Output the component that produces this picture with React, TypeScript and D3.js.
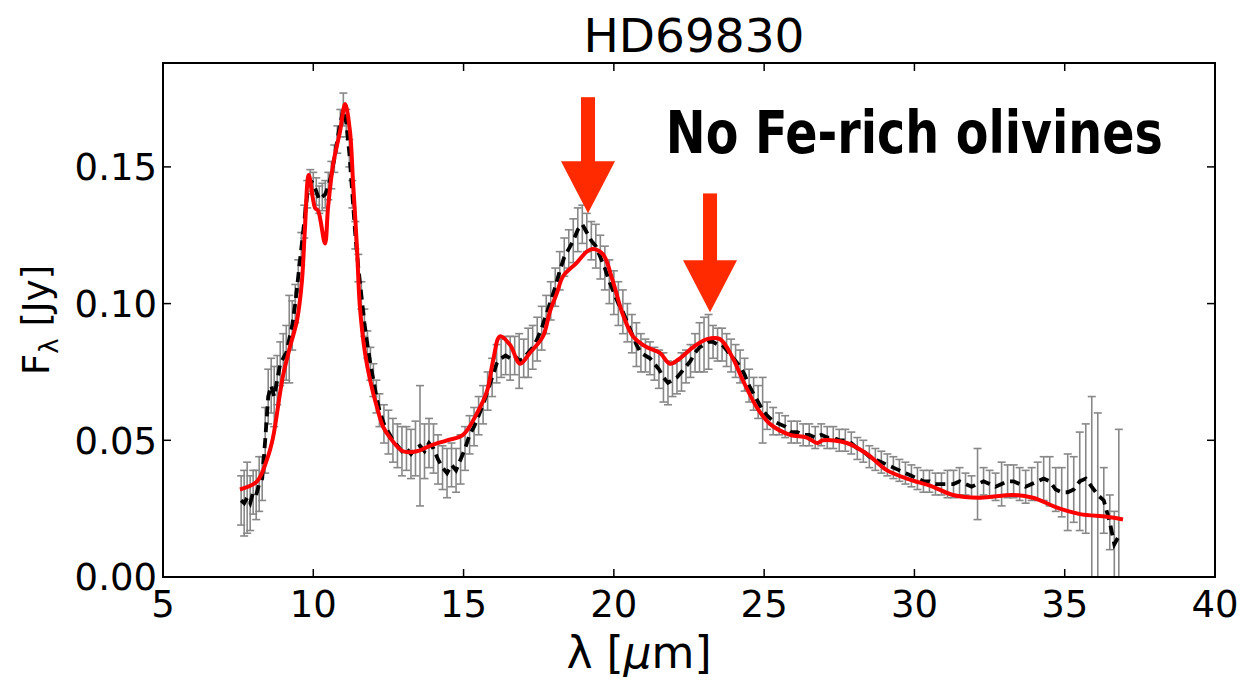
import * as d3 from "d3";

// observed spectrum (wavelength in micron, flux in Jy, 1-sigma error)
const obsWave = [
  7.6, 7.7, 7.8, 7.9, 8.0, 8.1, 8.2, 8.3, 8.4, 8.5,
  8.6, 8.7, 8.8, 8.9, 9.0, 9.1, 9.2, 9.3, 9.4, 9.5,
  9.6, 9.7, 9.8, 9.9, 10.0, 10.1, 10.2, 10.3, 10.4, 10.5,
  10.6, 10.7, 10.8, 10.9, 11.0, 11.1, 11.2, 11.3, 11.4, 11.5,
  11.6, 11.7, 11.8, 11.9, 12.0, 12.1, 12.2,
  12.35, 12.5, 12.65, 12.8, 12.95, 13.1, 13.25, 13.4, 13.55, 13.7, 13.85, 14.0,
  14.15, 14.3, 14.45, 14.6, 14.75, 14.9, 15.05, 15.2, 15.35, 15.5, 15.65, 15.8, 15.95,
  16.1, 16.25, 16.4, 16.55, 16.7, 16.85, 17.0, 17.15, 17.3, 17.45, 17.6, 17.75, 17.9,
  18.05, 18.2, 18.35, 18.5, 18.65, 18.8, 18.95, 19.1, 19.25, 19.4, 19.55, 19.7, 19.85,
  20.0, 20.15, 20.3, 20.45, 20.6, 20.75, 20.9, 21.05, 21.2, 21.35, 21.5, 21.65, 21.8,
  21.95, 22.1, 22.25, 22.4, 22.55, 22.7, 22.85, 23.0, 23.15, 23.3, 23.45, 23.6, 23.75,
  23.9, 24.05, 24.2, 24.35, 24.5, 24.65, 24.8, 24.95, 25.1,
  25.3, 25.5, 25.7, 25.9, 26.1, 26.3, 26.5, 26.7, 26.9, 27.1,
  27.3, 27.5, 27.7, 27.9, 28.1, 28.3, 28.5, 28.7, 28.9, 29.1,
  29.3, 29.5, 29.7, 29.9, 30.1, 30.3, 30.5, 30.7, 30.9, 31.1,
  31.3, 31.5, 31.7, 31.9, 32.1, 32.3, 32.5, 32.7, 32.9, 33.1,
  33.3, 33.5, 33.7, 33.9, 34.1, 34.3, 34.5, 34.7, 34.9, 35.1,
  35.3, 35.5, 35.7, 35.9, 36.1, 36.3, 36.5, 36.65, 36.8,
];

const obsFlux = [
  0.028, 0.027, 0.029, 0.027, 0.031, 0.030, 0.034, 0.036, 0.050, 0.066,
  0.070, 0.066, 0.072, 0.078, 0.080, 0.082, 0.087, 0.092, 0.100, 0.110,
  0.120, 0.130, 0.140, 0.145, 0.144, 0.141, 0.138, 0.139, 0.140, 0.143,
  0.147, 0.153, 0.160, 0.166, 0.171, 0.166, 0.155, 0.140, 0.125, 0.113,
  0.103, 0.093, 0.085, 0.078, 0.072, 0.066, 0.061,
  0.056, 0.053, 0.050, 0.048, 0.046, 0.047, 0.045, 0.047, 0.048, 0.046, 0.049, 0.047,
  0.043, 0.040, 0.038, 0.041, 0.039, 0.043, 0.047, 0.052, 0.055, 0.059, 0.063, 0.068, 0.073,
  0.078, 0.080, 0.081, 0.080, 0.081, 0.079, 0.080, 0.082, 0.084, 0.087, 0.091, 0.096, 0.101,
  0.106, 0.112, 0.117, 0.120, 0.123, 0.127, 0.129, 0.126, 0.123, 0.121, 0.117, 0.113, 0.108,
  0.104, 0.100, 0.097, 0.093, 0.089, 0.085, 0.082, 0.081, 0.080, 0.078, 0.076, 0.073, 0.071,
  0.072, 0.073, 0.075, 0.077, 0.079, 0.082, 0.084, 0.085, 0.086, 0.086, 0.085, 0.085, 0.083,
  0.081, 0.079, 0.077, 0.074, 0.070, 0.067, 0.064, 0.061, 0.059,
  0.057, 0.056, 0.055, 0.053, 0.053, 0.052, 0.052, 0.051, 0.052, 0.051,
  0.051, 0.050, 0.050, 0.049, 0.047, 0.046, 0.044, 0.043, 0.042, 0.041,
  0.040, 0.039, 0.038, 0.037, 0.036, 0.035, 0.035, 0.034, 0.034, 0.034,
  0.034, 0.035, 0.034, 0.033, 0.034, 0.035, 0.034, 0.033, 0.034, 0.035,
  0.035, 0.034, 0.033, 0.034, 0.035, 0.036, 0.035, 0.032, 0.031, 0.031,
  0.032, 0.035, 0.036, 0.033, 0.030, 0.028, 0.020, 0.012, 0.015,
];

const obsErr = [
  0.009, 0.012, 0.013, 0.010, 0.008, 0.009, 0.010, 0.008, 0.012, 0.010,
  0.010, 0.011, 0.009, 0.008, 0.009, 0.010, 0.016, 0.009, 0.007, 0.006,
  0.006, 0.006, 0.005, 0.004, 0.004, 0.005, 0.005, 0.005, 0.005, 0.005,
  0.005, 0.005, 0.005, 0.005, 0.006, 0.005, 0.005, 0.005, 0.005, 0.005,
  0.005, 0.005, 0.005, 0.006, 0.006, 0.006, 0.006,
  0.007, 0.008, 0.008, 0.008, 0.009, 0.008, 0.009, 0.010, 0.022, 0.010, 0.009, 0.009,
  0.009, 0.008, 0.009, 0.008, 0.008, 0.009, 0.008, 0.007, 0.007, 0.007, 0.007, 0.007, 0.007,
  0.007, 0.007, 0.007, 0.008, 0.007, 0.010, 0.007, 0.009, 0.008, 0.008, 0.008, 0.007, 0.007,
  0.007, 0.007, 0.007, 0.007, 0.008, 0.008, 0.007, 0.007, 0.007, 0.008, 0.008, 0.008, 0.008,
  0.008, 0.008, 0.008, 0.007, 0.007, 0.008, 0.007, 0.006, 0.006, 0.006, 0.007, 0.009, 0.008,
  0.006, 0.006, 0.007, 0.006, 0.006, 0.007, 0.009, 0.010, 0.010, 0.006, 0.006, 0.006, 0.006,
  0.006, 0.006, 0.006, 0.006, 0.006, 0.006, 0.006, 0.012, 0.005,
  0.005, 0.004, 0.004, 0.004, 0.004, 0.004, 0.004, 0.004, 0.004, 0.004,
  0.004, 0.004, 0.004, 0.004, 0.004, 0.004, 0.004, 0.004, 0.004, 0.004,
  0.004, 0.004, 0.004, 0.004, 0.004, 0.004, 0.004, 0.004, 0.004, 0.005,
  0.005, 0.005, 0.004, 0.004, 0.013, 0.005, 0.005, 0.005, 0.008, 0.006,
  0.006, 0.006, 0.006, 0.006, 0.007, 0.008, 0.009, 0.008, 0.009, 0.014,
  0.012, 0.018, 0.020, 0.033, 0.030, 0.012, 0.010, 0.012, 0.039,
];

// model fit (red curve)
const modelWave = [
  7.56, 8.13, 8.46, 8.66, 8.89, 9.0, 9.22, 9.46, 9.62, 9.72,
  9.85, 10.06, 10.16, 10.39, 10.49, 10.66, 10.89, 11.06, 11.22, 11.32,
  11.45, 11.55, 11.72, 11.89, 12.12, 12.32, 12.55, 12.98, 13.45, 13.88,
  14.45, 14.98, 15.45, 15.78, 15.98, 16.21, 16.54, 16.88, 17.21, 17.64,
  17.87, 18.11, 18.31, 18.77, 19.1, 19.3, 19.64, 19.97, 20.3, 20.64,
  21.1, 21.53, 21.87, 22.2, 22.63, 23.1, 23.53, 23.96, 24.29, 24.76,
  25.19, 25.86, 26.42, 26.76, 26.96, 27.75, 28.42, 29.09, 29.75, 30.62,
  31.28, 32.18, 33.28, 33.94, 34.84, 35.51, 36.4, 36.94,
];

const modelFlux = [
  0.032, 0.035, 0.043, 0.051, 0.067, 0.074, 0.084, 0.094, 0.108, 0.127,
  0.147, 0.135, 0.134, 0.122, 0.135, 0.151, 0.163, 0.173, 0.163, 0.145,
  0.121, 0.099, 0.082, 0.072, 0.062, 0.055, 0.051, 0.046, 0.046, 0.048,
  0.050, 0.052, 0.060, 0.068, 0.079, 0.088, 0.085, 0.078, 0.082, 0.088,
  0.097, 0.104, 0.110, 0.115, 0.119, 0.120, 0.118, 0.108, 0.096, 0.088,
  0.084, 0.082, 0.078, 0.080, 0.084, 0.087, 0.087, 0.080, 0.072, 0.062,
  0.056, 0.052, 0.051, 0.049, 0.050, 0.049, 0.045, 0.039, 0.036, 0.033,
  0.030, 0.029, 0.030, 0.029, 0.025, 0.023, 0.022, 0.021,
];

const xTicks = [5, 10, 15, 20, 25, 30, 35, 40];
const yTicks = [0, 0.05, 0.1, 0.15];

// feature markers: wavelength, shaft top and tip in Jy
const arrowWave = [19.14, 23.2];
const arrowTop = [0.1755, 0.1403];
const arrowTip = [0.133, 0.0968];

const W = 1247;
const H = 682;
const plot = { left: 163, right: 1215, top: 63, bottom: 577 };
const font = "DejaVu Sans, sans-serif";

function App() {
  const xScale = d3.scaleLinear().domain([5, 40]).range([plot.left, plot.right]);
  const yScale = d3.scaleLinear().domain([0, 0.188]).range([plot.bottom, plot.top]);

  const obs = obsWave.map((w, i) => ({ w, f: obsFlux[i], e: obsErr[i] }));
  const model = modelWave.map((w, i) => ({ w, f: modelFlux[i] }));

  const obsLine = d3
    .line<{ w: number; f: number }>()
    .x((d) => xScale(d.w))
    .y((d) => yScale(d.f));

  const modelLine = d3
    .line<{ w: number; f: number }>()
    .x((d) => xScale(d.w))
    .y((d) => yScale(d.f))
    .curve(d3.curveCatmullRom.alpha(0.5));

  const fmt = d3.format(".2f");
  const tick = 8;

  return (
    <svg
      width={W}
      height={H}
      style={{ position: "absolute", left: 0, top: 0, background: "#fff" }}
    >
      <defs>
        <clipPath id="plot-area">
          <rect
            x={plot.left}
            y={plot.top}
            width={plot.right - plot.left}
            height={plot.bottom - plot.top}
          />
        </clipPath>
      </defs>

      {/* title */}
      <text x={(plot.left + plot.right) / 2 + 5} y={52} textAnchor="middle" fontFamily={font} fontSize={47}>
        HD69830
      </text>

      <g clipPath="url(#plot-area)">
        {/* error bars */}
        <g stroke="#888" strokeWidth={1.6} fill="none">
          {obs.map((d, i) => {
            const cx = xScale(d.w);
            const y0 = yScale(d.f - d.e);
            const y1 = yScale(d.f + d.e);
            return (
              <g key={i}>
                <line x1={cx} x2={cx} y1={y0} y2={y1} />
                <line x1={cx - 4} x2={cx + 4} y1={y0} y2={y0} />
                <line x1={cx - 4} x2={cx + 4} y1={y1} y2={y1} />
              </g>
            );
          })}
        </g>

        {/* observed spectrum */}
        <path d={obsLine(obs) ?? ""} fill="none" stroke="#000" strokeWidth={3.8} strokeDasharray="10,6" />

        {/* model */}
        <path d={modelLine(model) ?? ""} fill="none" stroke="#ff0000" strokeWidth={4} strokeLinejoin="round" />
      </g>

      {/* arrows */}
      {arrowWave.map((w, i) => {
        const ax = xScale(w);
        const top = yScale(arrowTop[i]);
        const tip = yScale(arrowTip[i]);
        const headTop = tip - 52;
        return (
          <g key={i} fill="#ff2a00">
            <rect x={ax - 7} y={top} width={14} height={headTop - top + 1} />
            <path d={`M${ax - 27},${headTop} L${ax + 27},${headTop} L${ax},${tip} Z`} />
          </g>
        );
      })}

      <text
        x={xScale(21.73)}
        y={yScale(0.155)}
        fontFamily="DejaVu Sans Condensed, DejaVu Sans, sans-serif"
        fontWeight="bold"
        fontSize={58}
        textLength={497}
        lengthAdjust="spacingAndGlyphs"
      >
        No Fe-rich olivines
      </text>

      {/* frame */}
      <rect
        x={plot.left}
        y={plot.top}
        width={plot.right - plot.left}
        height={plot.bottom - plot.top}
        fill="none"
        stroke="#000"
        strokeWidth={2}
      />

      {/* ticks, pointing inward on all four sides */}
      <g stroke="#000" strokeWidth={1.5}>
        {xTicks.map((t) => (
          <g key={`x${t}`}>
            <line x1={xScale(t)} x2={xScale(t)} y1={plot.bottom} y2={plot.bottom - tick} />
            <line x1={xScale(t)} x2={xScale(t)} y1={plot.top} y2={plot.top + tick} />
          </g>
        ))}
        {yTicks.map((t) => (
          <g key={`y${t}`}>
            <line x1={plot.left} x2={plot.left + tick} y1={yScale(t)} y2={yScale(t)} />
            <line x1={plot.right} x2={plot.right - tick} y1={yScale(t)} y2={yScale(t)} />
          </g>
        ))}
      </g>

      {/* tick labels */}
      <g fontFamily={font} fontSize={37} fill="#000">
        {xTicks.map((t) => (
          <text key={`xl${t}`} x={xScale(t)} y={plot.bottom + 40} textAnchor="middle">
            {t}
          </text>
        ))}
        {yTicks.map((t) => (
          <text key={`yl${t}`} x={plot.left - 6} y={yScale(t)} dy="0.36em" textAnchor="end">
            {fmt(t)}
          </text>
        ))}
      </g>

      {/* axis labels */}
      <text x={(plot.left + plot.right) / 2 - 50} y={668} textAnchor="middle" fontFamily={font} fontSize={44}>
        λ [<tspan fontStyle="italic">μ</tspan>m]
      </text>
      <text
        transform={`translate(49,${(plot.top + plot.bottom) / 2}) rotate(-90)`}
        textAnchor="middle"
        fontFamily={font}
        fontSize={37}
      >
        F<tspan dy={9} fontSize={26}>λ</tspan>
        <tspan dy={-9}> [Jy]</tspan>
      </text>
    </svg>
  );
}

export default App;
